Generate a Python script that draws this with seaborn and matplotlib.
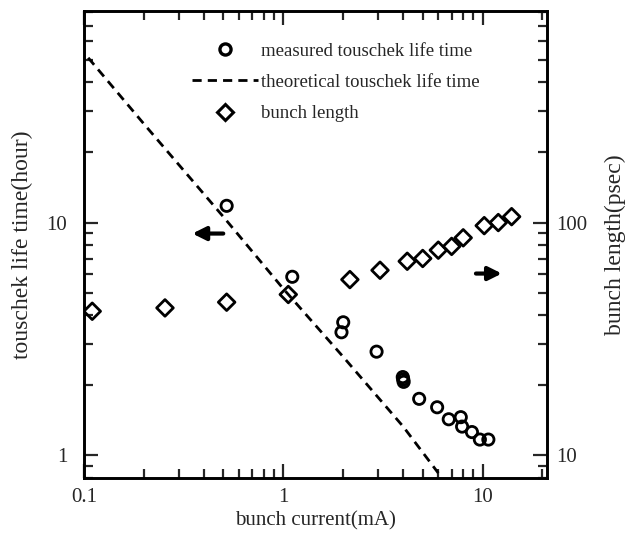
"""
Touschek life time and bunch length against bunch current (log-log, two y axes).
"""
import matplotlib
matplotlib.use("Agg")
import matplotlib.pyplot as plt
from matplotlib.lines import Line2D
from matplotlib.ticker import FuncFormatter, NullFormatter
import seaborn as sns

# measured touschek life time (left axis, hour)
meas_current = [0.52, 1.11, 1.96, 2.0, 2.94, 3.98, 4.0, 4.02, 4.81, 5.92,
                6.77, 7.78, 7.9, 8.85, 9.7, 10.7]
meas_life = [11.8, 5.85, 3.38, 3.73, 2.79, 2.17, 2.12, 2.07, 1.75, 1.61,
             1.43, 1.46, 1.33, 1.26, 1.17, 1.17]

# theoretical touschek life time (dashed line, left axis)
theo_current = [0.105, 0.2, 0.5, 1.0, 2.0, 4.0, 6.0]
theo_life = [51, 26.5, 10.6, 5.2, 2.65, 1.33, 0.84]

# bunch length (right axis, psec)
bl_current = [0.11, 0.255, 0.52, 1.06, 2.16, 3.06, 4.19, 5.01, 6.0, 7.0,
              8.0, 10.2, 12.0, 14.0]
bl_psec = [41.6, 43.0, 45.5, 49.1, 56.9, 62.4, 68.2, 70.1, 76.1, 79,
           86, 97, 100, 106]

labels = ["measured touschek life time", "theoretical touschek life time",
          "bunch length"]

sns.set_style("ticks")
plt.rcParams["font.family"] = ["Liberation Serif", "DejaVu Serif"]

fig = plt.figure(figsize=(6.3, 5.36), dpi=100)
ax = fig.add_axes([0.1333, 0.1082, 0.7345, 0.8713])
ax2 = ax.twinx()

dash = (0, (3.3, 2.2))

# data
sns.lineplot(x=theo_current, y=theo_life, ax=ax, color="k", lw=2,
             linestyle=dash, estimator=None, sort=False)
sns.scatterplot(x=meas_current, y=meas_life, ax=ax, marker="o", s=66,
                facecolors="none", edgecolor="k", linewidth=2)
sns.scatterplot(x=bl_current, y=bl_psec, ax=ax2, marker="D", s=72,
                facecolors="none", edgecolor="k", linewidth=2)

ax.set_xscale("log")
ax.set_yscale("log")
ax2.set_yscale("log")
ax.set_xlim(0.1, 21)
ax.set_ylim(0.8, 81)
ax2.set_ylim(8, 810)

fmt = FuncFormatter(lambda v, p: "%g" % v)
ax.xaxis.set_major_formatter(fmt)
ax.yaxis.set_major_formatter(fmt)
ax2.yaxis.set_major_formatter(fmt)
for a in (ax.xaxis, ax.yaxis, ax2.yaxis):
    a.set_minor_formatter(NullFormatter())

ax.tick_params(which="both", direction="in", top=True, right=False,
               width=1.6, labelsize=15)
ax.tick_params(which="major", length=10)
ax.tick_params(which="minor", length=6.5)
ax.tick_params(axis="x", pad=7)
ax.tick_params(axis="y", pad=12)
ax2.tick_params(which="both", direction="in", width=1.6, labelsize=15, pad=7)
ax2.tick_params(which="major", length=10)
ax2.tick_params(which="minor", length=6.5)

for a in (ax, ax2):
    for sp in a.spines.values():
        sp.set_linewidth(1.9)
        sp.set_color("k")

ax.set_xlabel("bunch current(mA)", fontsize=15)
ax.set_ylabel("touschek life time(hour)", fontsize=17)
ax2.set_ylabel("bunch length(psec)", fontsize=17)
ax.xaxis.set_label_coords(0.5, -0.072)
ax.yaxis.set_label_coords(-0.110, 0.5)
ax2.yaxis.set_label_coords(1.126, 0.5)

# arrows pointing to the axis each series belongs to
arrow = dict(arrowstyle="-|>", color="k", lw=3, mutation_scale=20,
             shrinkA=0, shrinkB=0)
ax.annotate("", xy=(0.35, 8.97), xytext=(0.50, 8.97), arrowprops=arrow)
ax.annotate("", xy=(12.5, 6.04), xytext=(9.27, 6.04), arrowprops=arrow)

handles = [
    Line2D([], [], ls="", marker="o", ms=8, mfc="none", mec="k", mew=2.4),
    Line2D([], [], color="k", lw=2, ls=dash),
    Line2D([], [], ls="", marker="D", ms=8, mfc="none", mec="k", mew=2.2),
]
ax2.legend(handles, labels, loc="upper left", bbox_to_anchor=(0.2334, 0.932),
           frameon=False, fontsize=13.5, borderpad=0, borderaxespad=0,
           handlelength=3.5, handletextpad=0.2, labelspacing=0.75)

fig.savefig("out.png", dpi=100)
